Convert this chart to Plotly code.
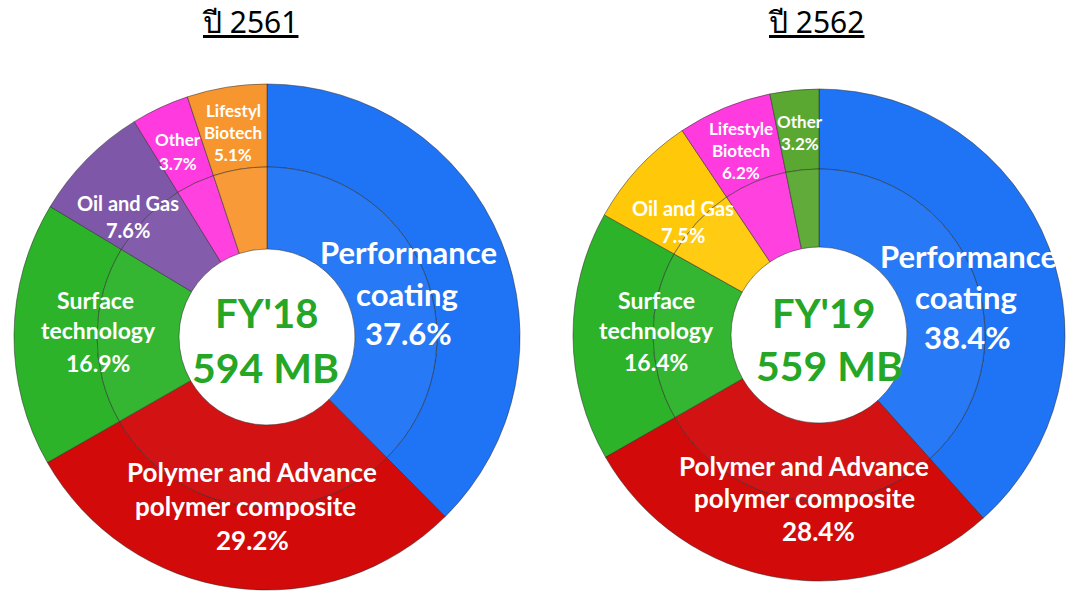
import plotly.graph_objects as go

W, H = 1070, 591

# ---- data ----
cats_18 = ["Performance coating", "Polymer and Advance polymer composite", "Surface technology",
           "Oil and Gas", "Other", "Lifestyl Biotech"]
vals_18 = [37.6, 29.2, 16.9, 7.6, 3.7, 5.1]
cols_18 = ["#1F74F5", "#D20A0A", "#2DB32A", "#7E57A8", "#FF3ADF", "#F7962F"]

cats_19 = ["Performance coating", "Polymer and Advance polymer composite", "Surface technology",
           "Oil and Gas", "Lifestyle Biotech", "Other"]
vals_19 = [38.4, 28.4, 16.4, 7.5, 6.2, 3.2]
cols_19 = ["#1F74F5", "#D20A0A", "#2DB32A", "#FFC90A", "#FF3ADF", "#5AA832"]

titles = ["ปี 2561", "ปี 2562"]
centers_txt = [("FY'18", "594 MB"), ("FY'19", "559 MB")]

# ---- geometry (pixels) ----
geo = [dict(cx=267, cy=337, R=253, r1=170, r0=88),
       dict(cx=819, cy=335, R=246, r1=166, r0=88)]


def dom(cx, cy, r):
    clamp = lambda v: min(1.0, max(0.0, v))
    return dict(x=[clamp((cx - r) / W), clamp((cx + r) / W)],
                y=[clamp(1 - (cy + r) / H), clamp(1 - (cy - r) / H)])


def lighten(hexc, f):
    h = hexc.lstrip("#")
    rgb = [int(h[i:i + 2], 16) for i in (0, 2, 4)]
    rgb = [int(c + (255 - c) * f) if f > 0 else int(c * (1 + f)) for c in rgb]
    return "#%02x%02x%02x" % tuple(rgb)


fig = go.Figure()
for (cats, vals, cols), g in zip([(cats_18, vals_18, cols_18), (cats_19, vals_19, cols_19)], geo):
    # outer ring
    fig.add_trace(go.Pie(labels=cats, values=vals, sort=False, direction="clockwise", rotation=0,
                         hole=g["r1"] / g["R"], domain=dom(g["cx"], g["cy"], g["R"]),
                         marker=dict(colors=cols,
                                     line=dict(color="rgba(40,40,40,0.5)", width=1)),
                         textinfo="none", hoverinfo="label+value", showlegend=False))
    # inner ring
    fig.add_trace(go.Pie(labels=cats, values=vals, sort=False, direction="clockwise", rotation=0,
                         hole=g["r0"] / g["r1"], domain=dom(g["cx"], g["cy"], g["r1"]),
                         marker=dict(colors=[lighten(c, 0.04) for c in cols],
                                     line=dict(color="rgba(40,40,40,0.5)", width=1)),
                         textinfo="none", hoverinfo="label+value", showlegend=False))

FONT = "Lato, Open Sans, sans-serif"
ann = []


def txt(x, y, s, size, color="white"):
    ann.append(dict(x=x / W, y=1 - y / H, xref="paper", yref="paper", text="<b>%s</b>" % s,
                    showarrow=False, xanchor="center", yanchor="middle",
                    font=dict(family=FONT, size=size, color=color)))


# titles
for x, t in zip([250, 816], titles):
    ann.append(dict(x=x / W, y=1 - 22 / H, xref="paper", yref="paper", text="<u>%s</u>" % t,
                    showarrow=False, xanchor="center", yanchor="middle",
                    font=dict(family="Noto Sans, DejaVu Sans, sans-serif", size=30, color="black")))

GREEN = "#25A625"
# left labels
p = ["%.1f%%" % v for v in vals_18]
txt(408, 252, "Performance", 31); txt(407, 294, "coating", 31); txt(408, 333, p[0], 31)
txt(252, 472, "Polymer and Advance", 26); txt(245, 506, "polymer composite", 26); txt(252, 540, p[1], 26)
txt(96, 300, "Surface", 23); txt(98, 330, "technology", 23); txt(98, 363, p[2], 23)
txt(128, 203, "Oil and Gas", 20); txt(128, 230, p[3], 20)
txt(178, 140, "Other", 17); txt(178, 163, p[4], 17)
txt(233, 110, "Lifestyl", 17); txt(233, 132, "Biotech", 17); txt(233, 155, p[5], 17)
txt(266, 313, centers_txt[0][0], 40, GREEN); txt(265, 367, centers_txt[0][1], 41, GREEN)

# right labels
q = ["%.1f%%" % v for v in vals_19]
txt(968, 256, "Performance", 31); txt(966, 297, "coating", 31); txt(967, 337, q[0], 31)
txt(804, 466, "Polymer and Advance", 26); txt(804, 498, "polymer composite", 26); txt(818, 531, q[1], 26)
txt(656, 300, "Surface", 23); txt(656, 330, "technology", 23); txt(656, 362, q[2], 23)
txt(683, 208, "Oil and Gas", 20); txt(683, 235, q[3], 20)
txt(741, 128, "Lifestyle", 17); txt(741, 150, "Biotech", 17); txt(741, 172, q[4], 17)
txt(800, 121, "Other", 17); txt(800, 143, q[5], 17)
txt(823, 313, centers_txt[1][0], 40, GREEN); txt(829, 365, centers_txt[1][1], 41, GREEN)

fig.update_layout(width=W, height=H, margin=dict(l=0, r=0, t=0, b=0),
                  paper_bgcolor="white", plot_bgcolor="white", annotations=ann)
fig.write_html("out.html", config={"displayModeBar": False},
               post_script="document.body.style.margin='0';document.body.style.padding='0';")
